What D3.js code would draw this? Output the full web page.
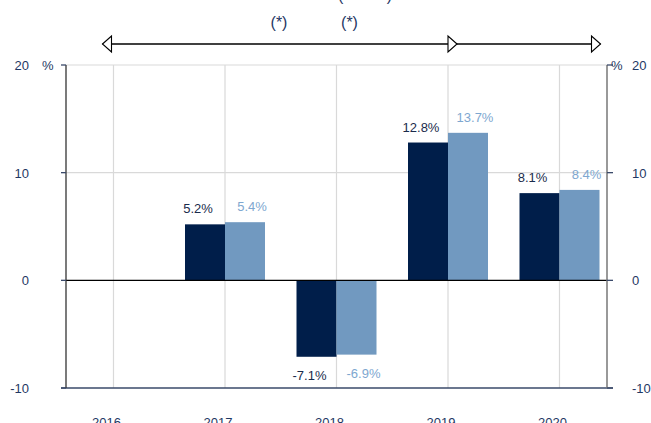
<!DOCTYPE html>
<html><head><meta charset="utf-8">
<script src="https://cdn.jsdelivr.net/npm/d3@7/dist/d3.min.js"></script>
<style>body{margin:0;background:#fff}svg{display:block;font-family:"Liberation Sans",Arial,sans-serif}</style>
</head><body>
<svg id="c" width="651" height="423"></svg>
<script>
const years = ["2016","2017","2018","2019","2020"];
const seriesA = [null, 5.2, -7.1, 12.8, 8.1];
const seriesB = [null, 5.4, -6.9, 13.7, 8.4];
const labelsA = [null, "5.2%", "-7.1%", "12.8%", "8.1%"];
const labelsB = [null, "5.4%", "-6.9%", "13.7%", "8.4%"];
const yTicks = [-10, 0, 10, 20];
const notes = ["(*)", "(*)"];

const svg = d3.select("#c");
const L = 66, R = 607, T = 65, B = 388;
const x = d3.scalePoint().domain(years).range([L, R]).padding(0.426);
const y = d3.scaleLinear().domain([-10, 20]).range([B, T]);
const bw = 40;
const navy = "#001e4a", light = "#7199c0", txt = "#1f3864";

// vertical gridlines
svg.append("g").selectAll("line").data(years).join("line")
  .attr("x1", d => x(d)).attr("x2", d => x(d)).attr("y1", T).attr("y2", B)
  .attr("stroke", "#d9d9d9").attr("stroke-width", 1.2);
// horizontal gridlines
svg.append("g").selectAll("line").data([10, 20]).join("line")
  .attr("x1", L).attr("x2", R).attr("y1", d => y(d)).attr("y2", d => y(d))
  .attr("stroke", "#d9d9d9").attr("stroke-width", 1.2);

// bars
const data = years.map((yr, i) => ({yr, a: seriesA[i], b: seriesB[i], la: labelsA[i], lb: labelsB[i]})).filter(d => d.a !== null);
const g = svg.append("g");
g.selectAll("rect.a").data(data).join("rect").attr("class", "a")
  .attr("x", d => x(d.yr) - bw).attr("width", bw)
  .attr("y", d => y(Math.max(0, d.a))).attr("height", d => Math.abs(y(d.a) - y(0)))
  .attr("fill", navy);
g.selectAll("rect.b").data(data).join("rect").attr("class", "b")
  .attr("x", d => x(d.yr)).attr("width", bw)
  .attr("y", d => y(Math.max(0, d.b))).attr("height", d => Math.abs(y(d.b) - y(0)))
  .attr("fill", light);

// labels
g.selectAll("text.a").data(data).join("text").attr("class", "a")
  .attr("x", d => x(d.yr) - bw / 2 - 7)
  .attr("y", d => d.a >= 0 ? y(d.a) - 11 : y(d.a) + 23)
  .attr("text-anchor", "middle").attr("font-size", 13).attr("fill", "#1a2b4c").text(d => d.la);
g.selectAll("text.b").data(data).join("text").attr("class", "b")
  .attr("x", d => x(d.yr) + bw / 2 + 7)
  .attr("y", d => d.b >= 0 ? y(d.b) - 11 : y(d.b) + 23)
  .attr("text-anchor", "middle").attr("font-size", 13).attr("fill", "#7ea7d0").text(d => d.lb);

// zero line & bottom line
svg.append("line").attr("x1", L).attr("x2", R).attr("y1", y(0)).attr("y2", y(0)).attr("stroke", "#000").attr("stroke-width", 1.2);
svg.append("line").attr("x1", L - 5).attr("x2", R + 6).attr("y1", y(-10)).attr("y2", y(-10)).attr("stroke", "#3a4a6a").attr("stroke-width", 1.5);

// axes lines
svg.append("line").attr("x1", L).attr("x2", L).attr("y1", T).attr("y2", B).attr("stroke", "#333").attr("stroke-width", 1.3);
svg.append("line").attr("x1", R).attr("x2", R).attr("y1", T).attr("y2", B).attr("stroke", "#777").attr("stroke-width", 1.5);

// ticks
svg.append("g").selectAll("line").data(yTicks).join("line")
  .attr("x1", L - 5).attr("x2", L).attr("y1", d => y(d)).attr("y2", d => y(d)).attr("stroke", "#3a4a6a").attr("stroke-width", 1.3);
svg.append("g").selectAll("line").data(yTicks).join("line")
  .attr("x1", R).attr("x2", R + 6).attr("y1", d => y(d)).attr("y2", d => y(d)).attr("stroke", "#3a4a6a").attr("stroke-width", 1.3);

// tick labels
svg.append("g").selectAll("text").data(yTicks).join("text")
  .attr("x", 29).attr("y", d => y(d) + 5).attr("text-anchor", "end")
  .attr("font-size", 13).attr("fill", txt).text(d => d);
svg.append("g").selectAll("text").data(yTicks).join("text")
  .attr("x", 632).attr("y", d => y(d) + 5).attr("text-anchor", "start")
  .attr("font-size", 13).attr("fill", txt).text(d => d);
svg.append("text").attr("x", 42).attr("y", y(20) + 5).attr("font-size", 13).attr("fill", txt).text("%");
svg.append("text").attr("x", 611).attr("y", y(20) + 5).attr("font-size", 13).attr("fill", txt).text("%");

// year labels (cut off at bottom, as in the reference)
svg.append("g").selectAll("text").data(years).join("text")
  .attr("x", d => x(d) - 7).attr("y", 427).attr("text-anchor", "middle")
  .attr("font-size", 13).attr("fill", txt).text(d => d);

// top notes
svg.append("text").attr("x", 365).attr("y", 1).attr("text-anchor", "middle").attr("font-size", 16).attr("fill", txt).text("(*******)");
svg.append("text").attr("x", x("2017") + 54).attr("y", 28).attr("text-anchor", "middle").attr("font-size", 16).attr("fill", txt).text(notes[0]);
svg.append("text").attr("x", x("2018") + 13).attr("y", 28).attr("text-anchor", "middle").attr("font-size", 16).attr("fill", txt).text(notes[1]);

// arrows
const ay = 44, ah = 8, al = 9;
const x0 = x("2016") - 11, x1 = x("2019") + 9, x2 = x("2020") + 41;
svg.append("line").attr("x1", x0).attr("x2", x2).attr("y1", ay).attr("y2", ay).attr("stroke", "#000").attr("stroke-width", 1.6);
function head(tip, dir) {
  const base = tip - dir * al;
  svg.append("path").attr("d", `M${tip},${ay} L${base},${ay - ah} L${base},${ay + ah} Z`)
    .attr("fill", "#fff").attr("stroke", "#000").attr("stroke-width", 1.1);
}
head(x0, -1); head(x1, 1); head(x2, 1);
</script>
</body></html>
